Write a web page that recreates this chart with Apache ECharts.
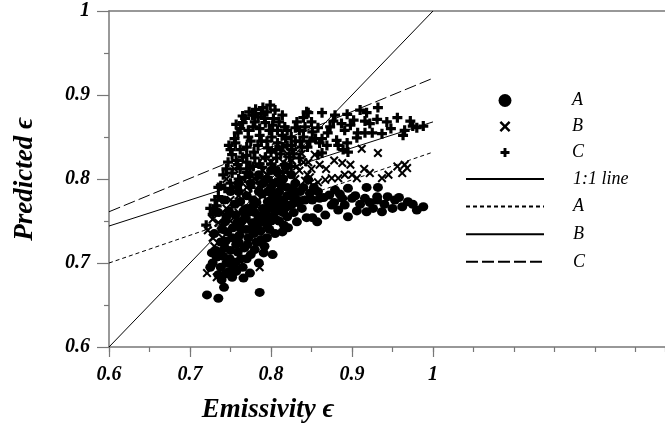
<!DOCTYPE html>
<html><head><meta charset="utf-8">
<script src="https://cdn.jsdelivr.net/npm/echarts@6/dist/echarts.min.js"></script>
<style>html,body{margin:0;padding:0;background:#fff}#c{width:665px;height:427px}</style>
</head><body><div id="c"></div>
<script>
const xTickLabels = [0.6, 0.7, 0.8, 0.9, 1];
const yTickLabels = [0.6, 0.7, 0.8, 0.9, 1];
const seriesA = [
[0.721,0.662],[0.735,0.658],[0.786,0.665],[0.742,0.671],[0.774,0.688],[0.802,0.710],[0.814,0.737],[0.821,0.742],
[0.832,0.749],[0.844,0.754],[0.836,0.774],[0.725,0.695],[0.735,0.686],[0.752,0.683],[0.756,0.701],[0.733,0.707],
[0.743,0.718],[0.759,0.713],[0.780,0.716],[0.786,0.725],[0.772,0.730],[0.752,0.730],[0.746,0.737],[0.762,0.742],
[0.780,0.743],[0.795,0.745],[0.768,0.754],[0.789,0.757],[0.805,0.761],[0.817,0.765],[0.756,0.757],[0.777,0.767],
[0.796,0.773],[0.830,0.777],[0.743,0.749],[0.762,0.773],
[0.851,0.775],[0.860,0.777],[0.858,0.765],[0.867,0.757],[0.857,0.749],[0.851,0.754],[0.883,0.763],[0.895,0.755],
[0.906,0.762],[0.918,0.761],[0.926,0.765],[0.937,0.761],[0.916,0.777],[0.931,0.775],[0.944,0.779],[0.953,0.775],
[0.962,0.767],[0.969,0.773],[0.980,0.763],[0.988,0.767],[0.900,0.777],[0.888,0.777],[0.875,0.769],[0.891,0.769],
[0.846,0.799],[0.879,0.787],[0.895,0.789],[0.904,0.780],[0.918,0.790],[0.932,0.790],[0.931,0.779],[0.858,0.785],
[0.770,0.780],[0.785,0.785],[0.800,0.790],[0.790,0.795],[0.810,0.785],[0.820,0.790],[0.830,0.795],[0.840,0.790],
[0.775,0.795],[0.760,0.785],[0.800,0.775],[0.815,0.775],[0.825,0.780],[0.790,0.765],[0.780,0.760],[0.770,0.765],
[0.755,0.770],[0.748,0.762],[0.810,0.750],[0.800,0.750],[0.820,0.755],[0.838,0.765],[0.785,0.805],[0.800,0.810],
[0.815,0.800],[0.825,0.805],[0.760,0.725],[0.770,0.705],[0.765,0.695],[0.745,0.700],[0.738,0.725],[0.795,0.730],
[0.805,0.735],[0.785,0.700],
[0.728,0.700],[0.732,0.715],[0.738,0.695],[0.741,0.708],[0.748,0.690],[0.750,0.715],[0.753,0.742],[0.757,0.722],
[0.761,0.733],[0.764,0.750],[0.767,0.718],[0.769,0.740],[0.772,0.760],[0.775,0.710],[0.777,0.748],[0.779,0.735],
[0.782,0.772],[0.784,0.752],[0.787,0.738],[0.789,0.782],[0.791,0.712],[0.793,0.760],[0.796,0.785],[0.798,0.740],
[0.801,0.768],[0.803,0.795],[0.806,0.752],[0.808,0.778],[0.811,0.762],[0.813,0.792],[0.816,0.745],[0.818,0.770],
[0.822,0.768],[0.826,0.788],[0.828,0.760],[0.833,0.772],[0.836,0.785],[0.842,0.775],[0.848,0.783],[0.853,0.790],
[0.865,0.778],[0.872,0.781],[0.878,0.772],[0.885,0.782],[0.910,0.770],[0.922,0.772],[0.940,0.770],[0.950,0.765],
[0.958,0.778],[0.975,0.770],[0.760,0.795],[0.773,0.805],[0.750,0.785],[0.742,0.775],[0.735,0.760],[0.740,0.740],
[0.730,0.735],[0.745,0.755],[0.795,0.800],[0.808,0.808],[0.818,0.815],[0.792,0.720],[0.782,0.725],[0.798,0.755],
[0.812,0.770],
[0.737,0.712],[0.744,0.726],[0.749,0.705],[0.754,0.695],[0.758,0.748],[0.763,0.705],[0.766,0.762],[0.771,0.722],
[0.774,0.740],[0.778,0.775],[0.783,0.745],[0.788,0.728],[0.792,0.750],[0.797,0.765],[0.802,0.782],[0.807,0.770],
[0.810,0.795],[0.815,0.760],[0.820,0.780],[0.826,0.770],[0.831,0.785],[0.744,0.687],[0.757,0.690],[0.766,0.682],
[0.739,0.680],[0.727,0.712]
];
const seriesB = [
[0.721,0.688],[0.733,0.683],[0.786,0.695],[0.722,0.739],[0.728,0.730],[0.735,0.748],
[0.912,0.836],[0.932,0.831],[0.888,0.819],[0.898,0.817],[0.860,0.817],[0.965,0.817],[0.968,0.813],[0.962,0.807],
[0.922,0.807],[0.937,0.801],[0.891,0.805],[0.883,0.801],[0.875,0.801],[0.867,0.799],[0.858,0.796],[0.906,0.801],
[0.848,0.802],[0.846,0.820],[0.854,0.829],
[0.760,0.780],[0.770,0.790],[0.780,0.800],[0.790,0.810],[0.800,0.790],[0.810,0.800],[0.820,0.810],[0.830,0.800],
[0.780,0.770],[0.760,0.760],[0.750,0.750],[0.740,0.760],[0.800,0.820],[0.820,0.830],[0.840,0.820],[0.790,0.780],
[0.810,0.780],[0.770,0.750],[0.740,0.730],[0.730,0.720],[0.835,0.810],[0.845,0.805],[0.750,0.775],[0.765,0.800],
[0.790,0.825],
[0.738,0.745],[0.745,0.765],[0.755,0.790],[0.762,0.770],[0.772,0.782],[0.785,0.792],[0.795,0.805],[0.805,0.812],
[0.815,0.820],[0.826,0.822],[0.832,0.815],[0.838,0.830],[0.850,0.812],[0.842,0.798],[0.852,0.792],[0.868,0.812],
[0.878,0.822],[0.900,0.805],[0.915,0.812],[0.945,0.805],[0.956,0.815],[0.728,0.752],[0.732,0.765],[0.775,0.815],
[0.798,0.835],[0.812,0.838],[0.828,0.840],[0.755,0.812],[0.745,0.800]
];
const seriesC = [
[0.799,0.888],[0.790,0.885],[0.805,0.882],[0.814,0.876],[0.777,0.876],[0.784,0.874],[0.765,0.867],[0.778,0.862],
[0.793,0.867],[0.802,0.864],[0.817,0.862],[0.830,0.861],[0.840,0.873],[0.844,0.880],[0.759,0.855],[0.772,0.850],
[0.786,0.852],[0.801,0.850],[0.814,0.852],[0.756,0.843],[0.770,0.838],[0.784,0.840],[0.796,0.837],[0.814,0.838],
[0.826,0.835],[0.752,0.829],[0.765,0.826],[0.780,0.825],[0.793,0.826],[0.807,0.825],[0.747,0.820],[0.759,0.817],
[0.774,0.813],[0.789,0.814],[0.805,0.813],[0.817,0.817],[0.752,0.807],[0.768,0.802],[0.783,0.801],[0.796,0.802],
[0.741,0.805],[0.743,0.789],[0.758,0.790],[0.735,0.779],[0.731,0.775],[0.725,0.765],[0.720,0.745],
[0.863,0.879],[0.879,0.876],[0.894,0.877],[0.910,0.882],[0.918,0.879],[0.932,0.885],[0.916,0.869],[0.931,0.871],
[0.943,0.868],[0.956,0.873],[0.972,0.869],[0.965,0.858],[0.980,0.861],[0.988,0.863],[0.963,0.852],[0.907,0.855],
[0.916,0.855],[0.925,0.855],[0.937,0.854],[0.898,0.864],[0.891,0.858],[0.906,0.849],[0.870,0.855],[0.873,0.862],
[0.858,0.861],[0.846,0.879],[0.851,0.856],[0.860,0.843],[0.869,0.840],[0.883,0.840],[0.881,0.846],[0.894,0.843],
[0.889,0.835],[0.895,0.832],[0.863,0.831],[0.858,0.829],
[0.840,0.850],[0.830,0.845],[0.845,0.838],[0.770,0.820],[0.760,0.800],[0.775,0.790],[0.790,0.795],[0.810,0.800],
[0.825,0.815],[0.835,0.825],
[0.738,0.792],[0.745,0.812],[0.750,0.835],[0.755,0.848],[0.762,0.860],[0.768,0.872],[0.773,0.880],[0.781,0.883],
[0.788,0.878],[0.795,0.880],[0.803,0.872],[0.810,0.868],[0.820,0.858],[0.825,0.850],[0.835,0.858],[0.850,0.868],
[0.855,0.848],[0.762,0.835],[0.775,0.845],[0.779,0.832],[0.788,0.845],[0.798,0.858],[0.808,0.843],[0.820,0.840],
[0.812,0.830],[0.823,0.826],[0.800,0.832],[0.786,0.818],[0.770,0.808],[0.762,0.812],[0.750,0.795],[0.735,0.790],
[0.728,0.758],[0.733,0.768],[0.800,0.818],[0.815,0.808],[0.828,0.830],[0.838,0.838],[0.848,0.845],[0.863,0.848],
[0.877,0.869],[0.887,0.866],[0.902,0.870],[0.922,0.866],[0.948,0.860],[0.975,0.863],
[0.757,0.865],[0.765,0.875],[0.772,0.858],[0.780,0.868],[0.792,0.872],[0.808,0.858],[0.818,0.848],[0.786,0.860],
[0.770,0.828],[0.757,0.822],[0.748,0.840],[0.778,0.815],[0.795,0.845],[0.806,0.835],[0.825,0.840],[0.836,0.845],
[0.842,0.862],[0.832,0.868]
];
const oneToOne = [[0.6,0.6],[1,1]];
const fitA = [[0.6,0.700],[1,0.832]];
const fitB = [[0.6,0.744],[1,0.868]];
const fitC = [[0.6,0.761],[1,0.920]];
const legendLabels = {'A':'A','B':'B','C':'C','1:1 line':'1:1 line','A fit':'A','B fit':'B','C fit':'C'};

const FONT = '"Liberation Serif", "Times New Roman", serif';
const AXC = '#777';
const PLUS = 'path://M3.4,0H6.6V3.4H10V6.6H6.6V10H3.4V6.6H0V3.4H3.4Z';
const CROSS = 'path://M0,1.6L1.6,0L5,3.4L8.4,0L10,1.6L6.6,5L10,8.4L8.4,10L5,6.6L1.6,10L0,8.4L3.4,5Z';
const XMIN = 0.6, XMAX = 1.2864;

const chart = echarts.init(document.getElementById('c'), null, {renderer:'canvas'});
function txt(pad){ return {fontFamily: FONT, fontStyle:'italic', fontSize:18, color:'#000', padding:[0,0,0,pad]}; }
function markerLegend(name, cx, cy, size){
  return {orient:'vertical', left:cx - size/2 - 5, top:cy - 8.5 - 5, itemWidth:size, itemHeight:size, itemGap:0,
    data:[name], selectedMode:false, textStyle:txt(572 - (cx + size/2 + 5)), formatter:n=>legendLabels[n]};
}
chart.setOption({
  animation:false,
  backgroundColor:'#fff',
  grid:{left:109, top:11, right:0, bottom:80, containLabel:false, outerBoundsMode:'none'},
  legend:[
    markerLegend('A', 505, 100, 13),
    markerLegend('B', 505, 126, 11),
    markerLegend('C', 505, 152, 9),
    {orient:'vertical', left:460, top:165, itemWidth:78, itemHeight:12, itemGap:9.6,
     data:['1:1 line','A fit','B fit','C fit'], selectedMode:false, textStyle:txt(24),
     itemStyle:{opacity:0}, formatter:n=>legendLabels[n]}
  ],
  xAxis:[
    {type:'value', min:XMIN, max:XMAX, interval:0.05, position:'bottom',
     axisLine:{show:true, onZero:false, lineStyle:{color:AXC, width:1.5}},
     axisTick:{show:true, length:5, lineStyle:{color:AXC, width:1.2}},
     axisLabel:{show:false}, splitLine:{show:false}},
    {type:'value', min:XMIN, max:XMAX, position:'bottom',
     axisLine:{show:false, onZero:false},
     axisTick:{show:true, length:10, customValues:xTickLabels, lineStyle:{color:AXC, width:1.2}},
     axisLabel:{show:true, customValues:xTickLabels, margin:18, fontFamily:FONT, fontStyle:'italic', fontWeight:'bold', fontSize:20, color:'#000'},
     splitLine:{show:false}},
    {type:'value', min:XMIN, max:XMAX, position:'top',
     axisLine:{show:true, onZero:false, lineStyle:{color:AXC, width:1.5}},
     axisTick:{show:false}, axisLabel:{show:false}, splitLine:{show:false}}
  ],
  yAxis:{type:'value', min:0.6, max:1, interval:0.1,
    axisLine:{show:true, onZero:false, lineStyle:{color:AXC, width:1.5}},
    axisTick:{show:true, length:12, customValues:yTickLabels, lineStyle:{color:AXC, width:1.2}},
    minorTick:{show:true, splitNumber:2, length:5, lineStyle:{color:AXC, width:1.2}},
    axisLabel:{margin:19, fontFamily:FONT, fontStyle:'italic', fontWeight:'bold', fontSize:20, color:'#000'},
    splitLine:{show:false},
    name:'Predicted ϵ', nameLocation:'middle', nameGap:70, nameRotate:90,
    nameTextStyle:{fontFamily:FONT, fontStyle:'italic', fontWeight:'bold', fontSize:27, color:'#000'}
  },
  graphic:[{type:'text', x:268, y:410, style:{text:'Emissivity ϵ', textAlign:'center', textVerticalAlign:'middle',
    font:'italic bold 27px "Liberation Serif", "Times New Roman", serif', fill:'#000'}}],
  series:[
    {name:'1:1 line', type:'line', data:oneToOne, symbol:'none', lineStyle:{color:'#000', width:1, type:'solid'}, itemStyle:{color:'#000'}},
    {name:'A fit', type:'line', data:fitA, symbol:'none', lineStyle:{color:'#000', width:1, type:[4,3]}, itemStyle:{color:'#000'}},
    {name:'B fit', type:'line', data:fitB, symbol:'none', lineStyle:{color:'#000', width:1, type:'solid'}, itemStyle:{color:'#000'}},
    {name:'C fit', type:'line', data:fitC, symbol:'none', lineStyle:{color:'#000', width:1, type:[12,4]}, itemStyle:{color:'#000'}},
    {name:'A', type:'scatter', data:seriesA, symbol:'circle', symbolSize:[10,9], itemStyle:{color:'#000', opacity:1}},
    {name:'B', type:'scatter', data:seriesB, symbol:CROSS, symbolSize:9, itemStyle:{color:'#000', opacity:1}},
    {name:'C', type:'scatter', data:seriesC, symbol:PLUS, symbolSize:10, itemStyle:{color:'#000', opacity:1}}
  ]
});
</script></body></html>
